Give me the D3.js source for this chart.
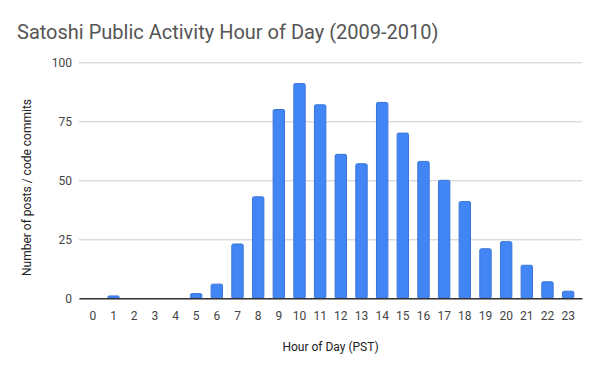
<!DOCTYPE html>
<html><head><meta charset="utf-8">
<script src="https://cdn.jsdelivr.net/npm/d3@7"></script>
<style>body{margin:0;background:#fff;}svg{display:block;font-family:Roboto,Arial,sans-serif;}</style>
</head><body>
<svg id="c" width="600" height="371"></svg>
<script>
const hours = ["0","1","2","3","4","5","6","7","8","9","10","11","12","13","14","15","16","17","18","19","20","21","22","23"];
const counts = [0,1,0,0,0,2,6,23,43,80,91,82,61,57,83,70,58,50,41,21,24,14,7,3];
const yTicks = [0,25,50,75,100];
const title = "Satoshi Public Activity Hour of Day (2009-2010)";
const xTitle = "Hour of Day (PST)";
const yTitle = "Number of posts / code commits";

const svg = d3.select("#c");
const pLeft = 79, pRight = 582, pTop = 62.3, pBottom = 298.3;
const x = d3.scaleBand().domain(hours).range([pLeft, pRight]).paddingInner(0.4).paddingOuter(0.37);
const y = d3.scaleLinear().domain([0,100]).range([pBottom, pTop]);

svg.append("rect").attr("width",600).attr("height",371).attr("fill","#fff");

svg.append("text").attr("x",17).attr("y",39).attr("font-size",20).attr("fill","#555").text(title);

const ga = svg.append("g").attr("transform",`translate(${pLeft},0)`)
  .call(d3.axisLeft(y).tickValues(yTicks).tickSize(-(pRight-pLeft)).tickPadding(7));
ga.select(".domain").remove();
ga.selectAll(".tick line").attr("stroke","#ccc").attr("stroke-width",1);
ga.selectAll(".tick text").attr("font-size",12).attr("fill","#444").attr("font-family","Roboto,Arial,sans-serif");

svg.append("g").selectAll("rect").data(counts).join("rect")
  .attr("x",(d,i)=>x(hours[i])+0.5)
  .attr("y",d=>y(d))
  .attr("width",x.bandwidth()-1)
  .attr("height",d=>pBottom-y(d))
  .attr("rx",1.5)
  .attr("fill","#4285f4").attr("stroke","#3a74db").attr("stroke-width",1)
  .attr("display",d=>d>0?null:"none");

const gx = svg.append("g").attr("transform",`translate(0,${pBottom})`)
  .call(d3.axisBottom(x).tickSize(0).tickPadding(13));
gx.select(".domain").attr("stroke","#333").attr("stroke-width",1.5);
gx.selectAll(".tick text").attr("font-size",12).attr("fill","#444").attr("font-family","Roboto,Arial,sans-serif");

svg.append("text").attr("x",330.5).attr("y",351).attr("text-anchor","middle").attr("font-size",12).attr("fill","#222").text(xTitle);
svg.append("text").attr("transform","translate(31,187.5) rotate(-90)").attr("text-anchor","middle").attr("font-size",12).attr("fill","#222").text(yTitle);
</script>
</body></html>
